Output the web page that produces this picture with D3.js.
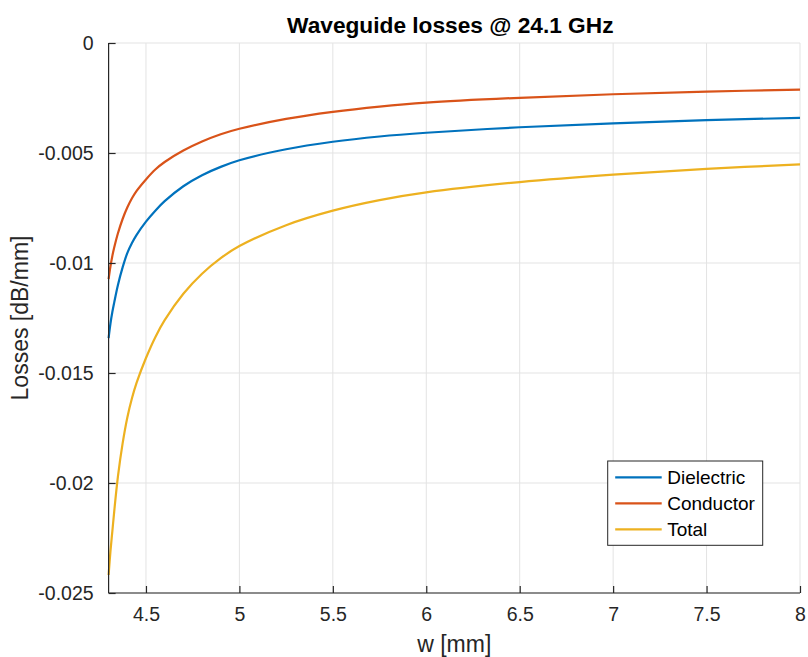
<!DOCTYPE html>
<html>
<head>
<meta charset="utf-8">
<script src="https://cdn.jsdelivr.net/npm/d3@7"></script>
<style>
  body { margin: 0; background: #fff; }
  svg { display: block; font-family: "Liberation Sans", Arial, Helvetica, sans-serif; }
</style>
</head>
<body>
<svg width="808" height="657"></svg>
<script>
// values
const w = [4.3, 4.31, 4.32, 4.33, 4.35, 4.375, 4.4, 4.425, 4.45, 4.5, 4.55, 4.6, 4.7, 4.8, 4.9,
    5, 5.25, 5.5, 5.75, 6, 6.5, 7, 7.5, 8];
const dielectric = [-0.01341, -0.01275, -0.01223, -0.01180, -0.01100, -0.01020, -0.00955, -0.00909,
    -0.00872, -0.00812, -0.00762, -0.00719, -0.00651, -0.00601, -0.00563, -0.00533, -0.00483,
    -0.00449, -0.00425, -0.00408, -0.00383, -0.00365, -0.00351, -0.00340];
const conductor = [-0.01073, -0.01015, -0.00968, -0.00930, -0.00865, -0.00800, -0.00748, -0.00706,
    -0.00672, -0.00620, -0.00575, -0.00541, -0.00489, -0.00448, -0.00415, -0.00390, -0.00345,
    -0.00313, -0.00289, -0.00271, -0.00249, -0.00233, -0.00221, -0.00212];
const total = [-0.02418, -0.02310, -0.02220, -0.02130, -0.01970, -0.01820, -0.01703, -0.01615,
    -0.01544, -0.01432, -0.01337, -0.01260, -0.01140, -0.01049, -0.00978, -0.00923, -0.00828,
    -0.00762, -0.00714, -0.00679, -0.00632, -0.00598, -0.00572, -0.00552];

const seriesNames = ["Dielectric", "Conductor", "Total"];
const seriesColors = ["#0072BD", "#D95319", "#EDB120"];
const xTicks = [4.5, 5, 5.5, 6, 6.5, 7, 7.5, 8];
const xTickLabels = ["4.5", "5", "5.5", "6", "6.5", "7", "7.5", "8"];
const yTicks = [0, -0.005, -0.01, -0.015, -0.02, -0.025];
const yTickLabels = ["0", "-0.005", "-0.01", "-0.015", "-0.02", "-0.025"];

const margin = {left: 108.6, right: 8, top: 43, bottom: 64};
const width = 808 - margin.left - margin.right;
const height = 657 - margin.top - margin.bottom;
const axisColor = "#262626";

const svg = d3.select("svg");
const g = svg.append("g").attr("transform", `translate(${margin.left},${margin.top})`);

const x = d3.scaleLinear().domain([4.3, 8]).range([0, width]);
const y = d3.scaleLinear().domain([-0.025, 0]).range([height, 0]);

// grid
g.append("g").selectAll("line").data(xTicks).join("line")
    .attr("x1", d => x(d)).attr("x2", d => x(d))
    .attr("y1", 0).attr("y2", height)
    .attr("stroke", "#e3e3e3").attr("stroke-width", 1);
g.append("g").selectAll("line").data(yTicks).join("line")
    .attr("x1", 0).attr("x2", width)
    .attr("y1", d => y(d)).attr("y2", d => y(d))
    .attr("stroke", "#e3e3e3").attr("stroke-width", 1);

// curves
const rows = [dielectric, conductor, total];
const line = d3.line()
    .x(d => x(d[0]))
    .y(d => y(d[1]))
    .curve(d3.curveCatmullRom.alpha(0.5));
rows.forEach((vals, i) => {
    g.append("path")
        .datum(w.map((v, j) => [v, vals[j]]))
        .attr("fill", "none")
        .attr("stroke", seriesColors[i])
        .attr("stroke-width", 2.2)
        .attr("d", line);
});

// axes
const xAxis = d3.axisBottom(x).tickValues(xTicks)
    .tickFormat((d, i) => xTickLabels[i]).tickSize(-7).tickPadding(14);
const yAxis = d3.axisLeft(y).tickValues(yTicks)
    .tickFormat((d, i) => yTickLabels[i]).tickSize(-7).tickPadding(15);

const xg = g.append("g").attr("transform", `translate(0,${height})`).call(xAxis);
const yg = g.append("g").call(yAxis);
[xg, yg].forEach(a => {
    a.select(".domain").attr("stroke", axisColor).attr("stroke-width", 1.2);
    a.selectAll(".tick line").attr("stroke", axisColor).attr("stroke-width", 1.2);
    a.selectAll(".tick text").attr("fill", axisColor)
        .style("font-size", "19.5px").style("font-family", null);
});
xg.select(".domain").attr("d", `M0,0H${width}`);
yg.select(".domain").attr("d", `M0,0V${height}`);

// title and labels
svg.append("text")
    .attr("x", margin.left + width / 2 - 4).attr("y", 33)
    .attr("text-anchor", "middle")
    .style("font-size", "22.7px").style("font-weight", "bold")
    .attr("fill", "#000")
    .text("Waveguide losses @ 24.1 GHz");

svg.append("text")
    .attr("x", margin.left + width / 2).attr("y", 652)
    .attr("text-anchor", "middle")
    .style("font-size", "23px")
    .attr("fill", axisColor)
    .text("w [mm]");

svg.append("text")
    .attr("transform", `translate(28,${margin.top + height / 2}) rotate(-90)`)
    .attr("text-anchor", "middle")
    .style("font-size", "23px")
    .attr("fill", axisColor)
    .text("Losses [dB/mm]");

// legend
const legend = svg.append("g").attr("transform", "translate(607.7,461)");
legend.append("rect")
    .attr("width", 155).attr("height", 84.3)
    .attr("fill", "#fff").attr("stroke", axisColor).attr("stroke-width", 1);
const items = legend.selectAll("g.item").data(seriesNames).join("g")
    .attr("class", "item")
    .attr("transform", (d, i) => `translate(0,${16.3 + i * 26})`);
items.append("line")
    .attr("x1", 7.5).attr("x2", 54)
    .attr("stroke", (d, i) => seriesColors[i]).attr("stroke-width", 2.2);
items.append("text")
    .attr("x", 59.5).attr("dy", "0.35em")
    .style("font-size", "19px")
    .attr("fill", "#000")
    .text(d => d);
</script>
</body>
</html>
